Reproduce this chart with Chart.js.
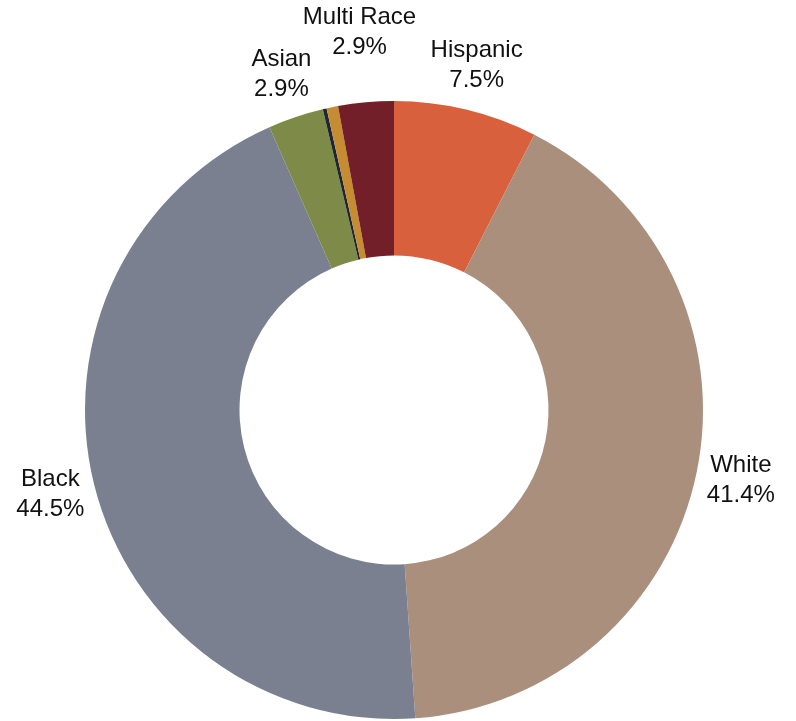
<!DOCTYPE html>
<html>
<head>
<meta charset="utf-8">
<script src="https://cdn.jsdelivr.net/npm/chart.js@4"></script>
<style>
  html, body { margin: 0; padding: 0; background: #fff; }
  #wrap { width: 796px; height: 721px; }
</style>
</head>
<body>
<div id="wrap"><canvas id="myChart" width="796" height="721"></canvas></div>
<script>
const groups = ['Hispanic', 'White', 'Black', 'Asian', 'Native American', 'Other', 'Multi Race'];
const shares = [7.5, 41.4, 44.5, 2.9, 0.2, 0.6, 2.9];
const colors = ['#d8603c', '#aa8f7d', '#7a808f', '#7e8a47', '#1e2533', '#c58c31', '#731f2a'];

// draws "name / pct" outside each slice, pushed outward if it hits a label already drawn
const outsideLabels = {
    id: 'outsideLabels',
    afterDatasetsDraw(chart) {
        const ctx = chart.ctx;
        const arcs = chart.getDatasetMeta(0).data;
        const placed = [];
        ctx.save();
        ctx.font = '24px "Liberation Sans", Arial, sans-serif';
        ctx.fillStyle = '#111';
        ctx.textAlign = 'center';
        ctx.textBaseline = 'middle';
        arcs.forEach((arc, i) => {
            if (shares[i] < 1) return;
            const mid = (arc.startAngle + arc.endAngle) / 2;
            const pct = shares[i].toFixed(1) + '%';
            const w = Math.max(ctx.measureText(groups[i]).width, ctx.measureText(pct).width);
            const h = 41;
            let r = arc.outerRadius + 45;
            let cx, cy;
            for (let k = 0; k < 80; k++) {
                cx = arc.x + Math.cos(mid) * r;
                cy = arc.y + Math.sin(mid) * r;
                const hit = placed.some(b =>
                    cx - w / 2 < b.x2 && cx + w / 2 > b.x1 && cy - h / 2 < b.y2 && cy + h / 2 > b.y1);
                if (!hit) break;
                r += 1;
            }
            placed.push({x1: cx - w / 2, x2: cx + w / 2, y1: cy - h / 2, y2: cy + h / 2});
            ctx.fillText(groups[i], cx, cy - 15);
            ctx.fillText(pct, cx, cy + 15);
        });
        ctx.restore();
    }
};

const ctx = document.getElementById('myChart').getContext('2d');
const myChart = new Chart(ctx, {
    type: 'doughnut',
    data: {
        labels: groups,
        datasets: [{
            data: shares,
            backgroundColor: colors,
            borderWidth: 0,
            hoverOffset: 0
        }]
    },
    options: {
        responsive: false,
        animation: false,
        cutout: '50%',
        layout: { padding: { left: 85, right: 93, top: 101, bottom: 2 } },
        plugins: {
            legend: { display: false },
            tooltip: { enabled: false }
        }
    },
    plugins: [outsideLabels]
});
</script>
</body>
</html>
